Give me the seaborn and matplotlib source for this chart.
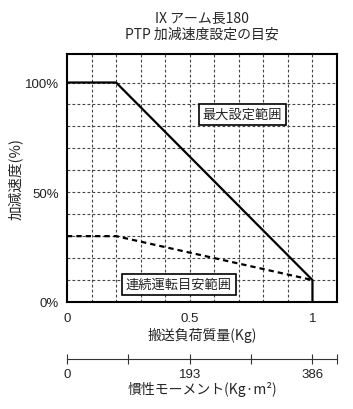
import matplotlib
matplotlib.use("Agg")
import matplotlib.pyplot as plt
import seaborn as sns
import pandas as pd

# ---- data ----
load_max = [0.0, 0.2, 1.0, 1.0]
accel_max = [100, 100, 10, 0]
load_cont = [0.0, 0.2, 1.0]
accel_cont = [30, 30, 10]
x_ticks = [0, 0.5, 1]
x_tick_labels = ["0", "0.5", "1"]
y_ticks = [0, 50, 100]
y_tick_labels = ["0%", "50%", "100%"]
inertia_ticks = [0, 193, 386]
inertia_labels = ["0", "193", "386"]
inertia_minor = [96.5, 289.5, 424.6]

title_text = "IX アーム長180\nPTP 加減速度設定の目安"
xlabel_text = "搬送負荷質量(Kg)"
ylabel_text = "加減速度(%)"
x2label_text = "慣性モーメント(Kg·m²)"
box1_text = "最大設定範囲"
box2_text = "連続運転目安範囲"

sns.set_style("white")
plt.rcParams["font.family"] = ["Noto Sans CJK JP", "DejaVu Sans"]
num_font = ["Liberation Sans", "DejaVu Sans"]

df_max = pd.DataFrame({"load": load_max, "accel": accel_max})
df_cont = pd.DataFrame({"load": load_cont, "accel": accel_cont})

fig = plt.figure(figsize=(3.53, 4.10), dpi=100)
ax = fig.add_axes([0.1898, 0.2610, 0.7649, 0.6049])

sns.lineplot(data=df_max, x="load", y="accel", ax=ax, color="black",
             lw=1.6, estimator=None, sort=False)
sns.lineplot(data=df_cont, x="load", y="accel", ax=ax, color="black",
             lw=1.6, estimator=None, sort=False, dashes=False,
             linestyle=(0, (2.4, 1.8)))

ax.set_xlim(0, 1.1)
ax.set_ylim(0, 113)

# grid
for gx in [i / 10 for i in range(1, 11)]:
    ax.axvline(gx, color="#444444", lw=0.8, ls=(0, (2.5, 2)), zorder=0)
for gy in range(10, 101, 10):
    ax.axhline(gy, color="#444444", lw=0.8, ls=(0, (2.5, 2)), zorder=0)

ax.set_xticks(x_ticks)
ax.set_xticklabels(x_tick_labels, family=num_font)
ax.set_yticks(y_ticks)
ax.set_yticklabels(y_tick_labels, family=num_font)
ax.tick_params(axis="both", length=0, labelsize=9.5, colors="#222222")
ax.tick_params(axis="x", pad=7)
ax.tick_params(axis="y", pad=6)
for s in ax.spines.values():
    s.set_linewidth(1.5)
    s.set_color("black")

ax.set_xlabel(xlabel_text, fontsize=10, labelpad=2)
ax.set_ylabel(ylabel_text, fontsize=10.5, labelpad=1)
ax.set_title(title_text, fontsize=10, linespacing=1.1, pad=12)

bbox = dict(boxstyle="square,pad=0.3", fc="white", ec="black", lw=1.2)
ax.text(0.715, 85.5, box1_text, ha="center", va="center", fontsize=9.5,
        bbox=bbox, zorder=5)
ax.text(0.455, 8.1, box2_text, ha="center", va="center", fontsize=9.5,
        bbox=bbox, zorder=5)

# secondary scale (inertia)
ax2 = fig.add_axes([0.1898, 0.122, 0.7649, 0.0001])
ax2.set_xlim(0, 424.6)
ax2.set_yticks([])
for side in ["left", "right", "top"]:
    ax2.spines[side].set_visible(False)
ax2.spines["bottom"].set_linewidth(0.8)
ax2.spines["bottom"].set_color("#333333")
ax2.set_xticks(inertia_ticks)
ax2.set_xticklabels(inertia_labels, family=num_font)
ax2.set_xticks(inertia_minor, minor=True)
ax2.tick_params(axis="x", which="both", bottom=True, direction="inout",
                length=7, width=0.8, color="#333333", labelsize=9.5, pad=3,
                labelcolor="#222222")
ax2.set_xlabel(x2label_text, fontsize=10, labelpad=1)

fig.savefig("out.png", dpi=100)
